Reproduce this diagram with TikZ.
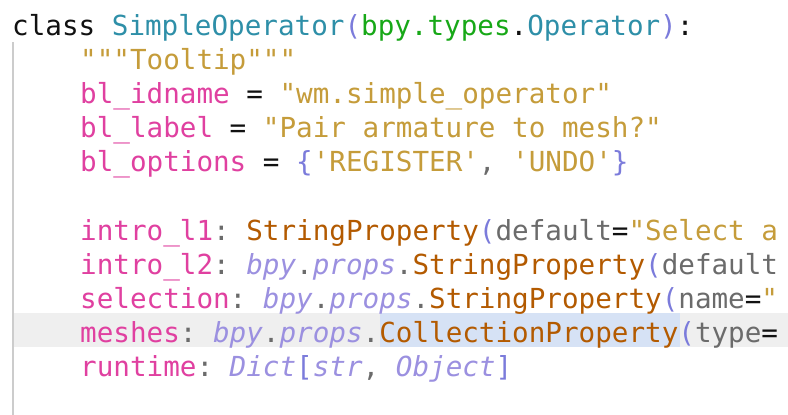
\documentclass[tikz,border=0pt]{standalone}
\usepackage{fontspec}
\setmonofont{DejaVu Sans Mono}
\definecolor{kw}{HTML}{111111}
\definecolor{cls}{HTML}{2E8FA8}
\definecolor{par}{HTML}{7B7BDB}
\definecolor{grn}{HTML}{17A817}
\definecolor{str}{HTML}{C59C3A}
\definecolor{pnk}{HTML}{E040A0}
\definecolor{brn}{HTML}{B35A00}
\definecolor{gry}{HTML}{6B6B6B}
\definecolor{lav}{HTML}{9B90E0}
\definecolor{hl}{HTML}{EFEFEF}
\definecolor{sel}{HTML}{D6E2F5}
\tikzset{code/.style={anchor=base west,inner sep=0pt,font=\ttfamily\fontsize{27.6}{34}\selectfont}}
\newcommand{\C}[2]{\textcolor{#1}{#2}}
\newcommand{\I}[1]{\textcolor{lav}{\itshape #1}}
\begin{document}
\begin{tikzpicture}[x=1pt,y=-1pt]
\useasboundingbox (0,0) rectangle (788,415);
\clip (0,0) rectangle (788,415);
\fill[white] (0,0) rectangle (788,415);
\fill[hl] (12,313) rectangle (788,347);
\fill[sel] (380,313) rectangle (680,347);
\draw[gray!40,line width=1.2pt] (13,42) -- (13,415);
\node[code] (l1) at (12,35) {\C{kw}{class }\C{cls}{SimpleOperator}\C{par}{(}\C{grn}{bpy.types}\C{kw}{.}\C{cls}{Operator}\C{par}{)}\C{kw}{:}};
\node[code] (l2) at (80,69) {\C{str}{"""Tooltip"""}};
\node[code] (l3) at (80,103) {\C{pnk}{bl\_idname}\C{kw}{\ =\ }\C{str}{"wm.simple\_operator"}};
\node[code] (l4) at (80,137) {\C{pnk}{bl\_label}\C{kw}{\ =\ }\C{str}{"Pair armature to mesh?"}};
\node[code] (l5) at (80,171) {\C{pnk}{bl\_options}\C{kw}{\ =\ }\C{par}{\{}\C{str}{'REGISTER'}\C{gry}{, }\C{str}{'UNDO'}\C{par}{\}}};
\node[code] (l6) at (80,240) {\C{pnk}{intro\_l1}\C{gry}{: }\C{brn}{StringProperty}\C{par}{(}\C{gry}{default}\C{kw}{=}\C{str}{"Select a}};
\node[code] (l7) at (80,274) {\C{pnk}{intro\_l2}\C{gry}{: }\I{bpy}\C{gry}{.}\I{props}\C{gry}{.}\C{brn}{StringProperty}\C{par}{(}\C{gry}{default}};
\node[code] (l8) at (80,308) {\C{pnk}{selection}\C{gry}{: }\I{bpy}\C{gry}{.}\I{props}\C{gry}{.}\C{brn}{StringProperty}\C{par}{(}\C{gry}{name}\C{kw}{=}\C{str}{"}};
\node[code] (l9) at (80,342) {\C{pnk}{meshes}\C{gry}{: }\I{bpy}\C{gry}{.}\I{props}\C{gry}{.}\C{brn}{CollectionProperty}\C{par}{(}\C{gry}{type}\C{kw}{=}};
\node[code] (l10) at (80,376) {\C{pnk}{runtime}\C{gry}{: }\I{Dict}\C{par}{[}\I{str}\C{gry}{, }\I{Object}\C{par}{]}};
\end{tikzpicture}
\end{document}
